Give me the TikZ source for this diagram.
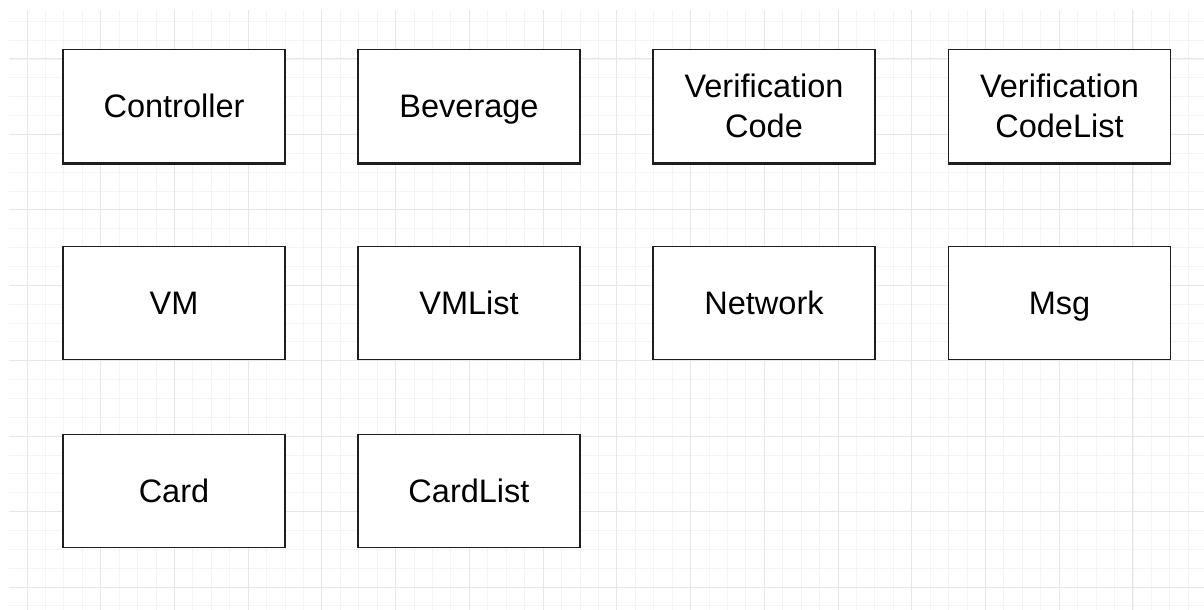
\documentclass[tikz,border=0pt]{standalone}
\usepackage{fontspec}
\setmainfont{Liberation Sans}
\definecolor{gridminor}{HTML}{F4F4F4}
\definecolor{gridmajor}{HTML}{E6E6E6}
\definecolor{boxline}{HTML}{1E1E1E}
\tikzset{
  cls/.style={draw=boxline, line width=1.8pt, fill=white, minimum width=222pt, minimum height=113pt,
    inner sep=0pt, align=center, font=\fontsize{32.5}{39.5}\selectfont, text=black,
    text height=23.4pt, text depth=0pt},
  cls2/.style={cls, text height=62.9pt},
  shadowline/.style={draw=boxline, line width=2pt}
}
\begin{document}
\begin{tikzpicture}[x=1pt,y=-1pt]
\useasboundingbox (0,0) rectangle (1204,610);
\fill[white] (0,0) rectangle (1204,610);
\begin{scope}
\clip (9,10) rectangle (1204,610);
\foreach \k in {0,...,65} {
  \draw[gridminor, line width=1pt] ({8.6+\k*18.433},10) -- ({8.6+\k*18.433},610);
}
\foreach \k in {0,...,32} {
  \draw[gridminor, line width=1pt] (9,{21.3+\k*18.858}) -- (1204,{21.3+\k*18.858});
}
\foreach \k in {0,...,16} {
  \draw[gridmajor, line width=1pt] ({27+\k*73.73},10) -- ({27+\k*73.73},610);
}
\foreach \k in {0,...,7} {
  \draw[gridmajor, line width=1pt] (9,{59+\k*75.43}) -- (1204,{59+\k*75.43});
}
\end{scope}

\node[cls] (controller) at (174,106) {Controller};
\node[cls] (beverage) at (469,106) {Beverage};
\node[cls2] (vcode) at (764,106) {Verification\\Code};
\node[cls2] (vcodelist) at (1059.5,106) {Verification\\CodeList};

\node[cls] (vm) at (174,303) {VM};
\node[cls] (vmlist) at (469,303) {VMList};
\node[cls] (network) at (764,303) {Network};
\node[cls] (msg) at (1059.5,303) {Msg};

\node[cls] (card) at (174,491) {Card};
\node[cls] (cardlist) at (469,491) {CardList};

\foreach \n in {controller,beverage,vcode,vcodelist} {
  \draw[shadowline] ([yshift=-0.9pt]\n.south west) -- ([yshift=-0.9pt]\n.south east);
}
\end{tikzpicture}
\end{document}
